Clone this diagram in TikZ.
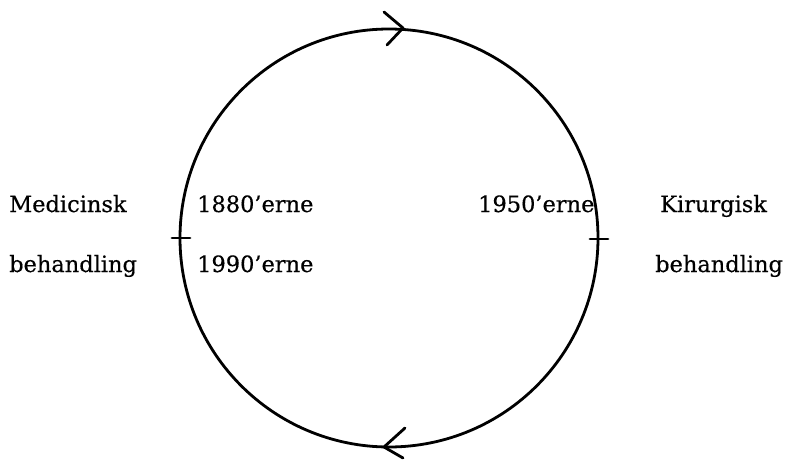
\documentclass[tikz,border=0pt]{standalone}
\usepackage{fontspec}
\setmainfont[FakeBold=0.4]{DejaVu Serif}
\begin{document}
\begin{tikzpicture}[x=1pt,y=1pt,
  line/.style={line width=2.8pt,line cap=round,line join=round},
  lbl/.style={anchor=base west,inner sep=0pt,font=\fontsize{22.5}{26}\selectfont}]
\useasboundingbox (0,0) rectangle (796,459);
\coordinate (ctr) at (389,221);
\draw[line] (ctr) circle[radius=209];
% tick marks
\coordinate (tl) at (180,221);
\coordinate (tr) at (598,220);
\draw[line] ([xshift=-8]tl) -- ([xshift=10]tl);
\draw[line] ([xshift=-8]tr) -- ([xshift=10]tr);
% arrowheads
\coordinate (at) at (403,431);
\coordinate (ab) at (384,12);
\draw[line] ([shift={(-19,16)}]at) -- (at) -- ([shift={(-16,-17)}]at);
\draw[line] ([shift={(21,19)}]ab) -- (ab) -- ([shift={(19,-11)}]ab);
% labels
\node[lbl] (med) at (9,247) {Medicinsk};
\node[lbl] (beh1) at (9,187) {behandling};
\node[lbl] (y1880) at (197,247) {1880’erne};
\node[lbl] (y1990) at (197,187) {1990’erne};
\node[lbl] (y1950) at (478,247) {1950’erne};
\node[lbl] (kir) at (660,247) {Kirurgisk};
\node[lbl] (beh2) at (655,187) {behandling};
\end{tikzpicture}
\end{document}
